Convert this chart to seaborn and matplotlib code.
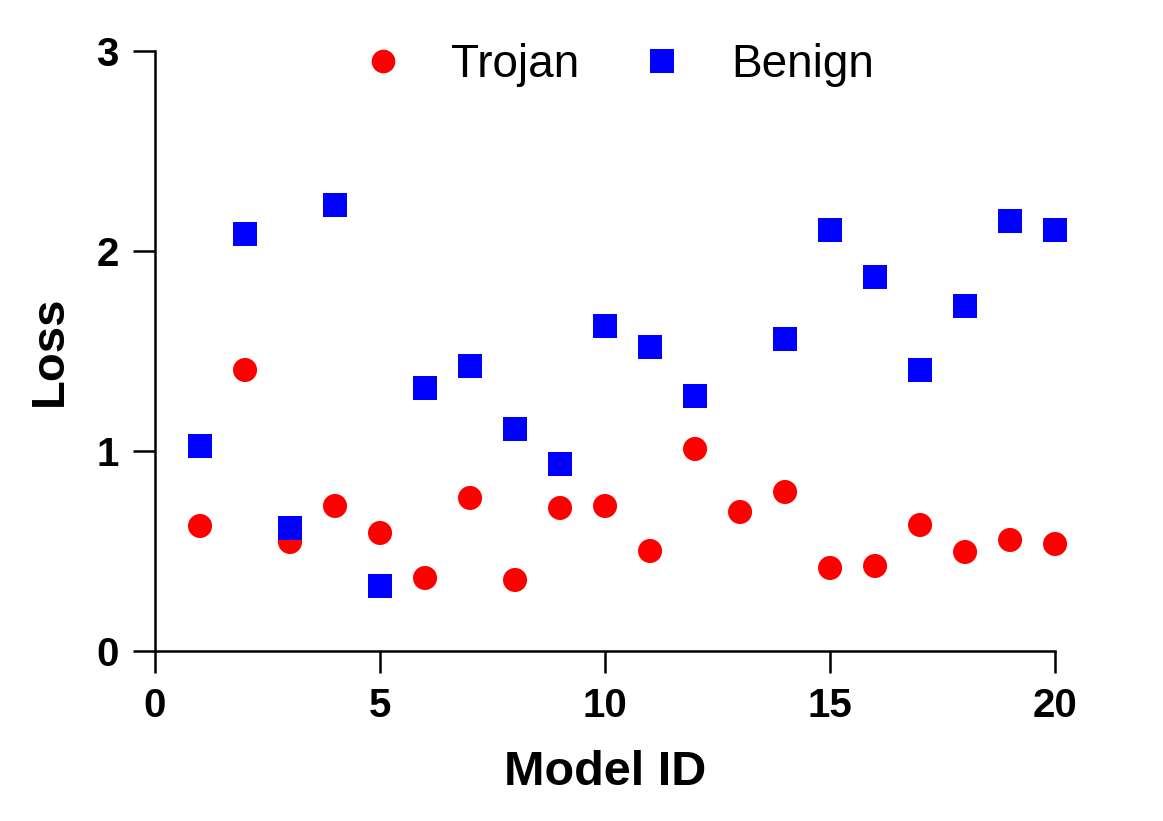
import numpy as np
import pandas as pd
import matplotlib
matplotlib.use('Agg')
import matplotlib.pyplot as plt
import seaborn as sns

# values
model_id = list(range(1, 21))
trojan_loss = [0.625, 1.405, 0.545, 0.725, 0.59, 0.365, 0.765, 0.355, 0.715, 0.725,
               0.50, 1.01, 0.695, 0.795, 0.415, 0.425, 0.63, 0.495, 0.555, 0.535]
benign_loss = [1.025, 2.085, 0.615, 2.23, 0.325, 1.315, 1.425, 1.11, 0.935, 1.625,
               1.52, 1.275, np.nan, 1.56, 2.105, 1.87, 1.405, 1.725, 2.15, 2.105]

df = pd.DataFrame({'Model ID': model_id, 'Trojan': trojan_loss, 'Benign': benign_loss})
long_df = df.melt(id_vars='Model ID', var_name='Type', value_name='Loss').dropna()

sns.set_style('ticks')
plt.rcParams['font.family'] = ['Liberation Sans', 'DejaVu Sans']
plt.rcParams['text.color'] = 'black'
plt.rcParams['axes.labelcolor'] = 'black'
plt.rcParams['xtick.color'] = 'black'
plt.rcParams['ytick.color'] = 'black'
plt.rcParams['axes.edgecolor'] = 'black'

fig = plt.figure(figsize=(11.63, 8.21), dpi=100)
ax = fig.add_axes([0.1333, 0.2071, 0.7739, 0.7308])

sns.scatterplot(data=long_df, x='Model ID', y='Loss', hue='Type', style='Type',
                hue_order=['Trojan', 'Benign'], style_order=['Trojan', 'Benign'],
                palette={'Trojan': '#ff0000', 'Benign': '#0000ff'},
                markers={'Trojan': 'o', 'Benign': 's'},
                s=300, linewidth=0, clip_on=False, zorder=3, ax=ax)

ax.set_xlim(0, 20)
ax.set_ylim(0, 3)
ax.set_xticks([0, 5, 10, 15, 20])
ax.set_yticks([0, 1, 2, 3])
sns.despine(ax=ax)
for side in ['left', 'bottom']:
    ax.spines[side].set_linewidth(1.8)
ax.tick_params(axis='both', direction='out', length=16, width=1.8, labelsize=29, pad=10)
for lbl in ax.get_xticklabels() + ax.get_yticklabels():
    lbl.set_fontweight('bold')

ax.set_xlabel('Model ID', fontsize=35, fontweight='bold', labelpad=18)
ax.set_ylabel('Loss', fontsize=34, fontweight='bold', labelpad=18)

handles, labels = ax.get_legend_handles_labels()
for h in handles:
    h.set_markersize(17)
    h.set_markeredgewidth(0)
ax.legend(handles, labels, loc='center', bbox_to_anchor=(0.513, 0.977), ncol=2,
          frameon=False, fontsize=33, handlelength=1.0, handletextpad=1.0,
          columnspacing=1.3)

fig.savefig('out.png', dpi=100)
